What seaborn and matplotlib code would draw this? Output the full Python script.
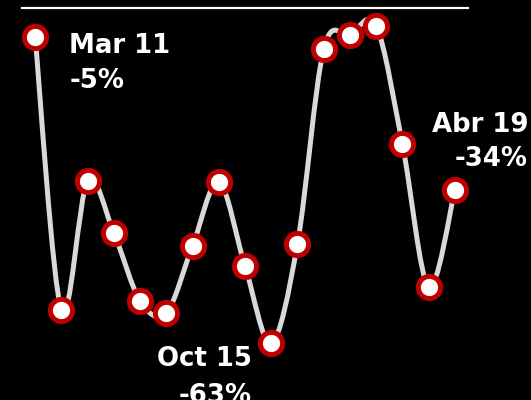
import numpy as np
import pandas as pd
import matplotlib
matplotlib.use("Agg")
import matplotlib.pyplot as plt
from matplotlib.path import Path
from matplotlib.patches import PathPatch
import seaborn as sns

# values (percent change)
values = [-5, -56.7, -32.3, -42.1, -55.0, -57.3, -44.6, -32.5, -48.4,
          -63, -44.2, -7.3, -4.6, -2.9, -25.3, -52.4, -34]
labels = [(0, "Mar 11\n-5%"), (9, "Oct 15\n-63%"), (16, "Abr 19\n-34%")]

df = pd.DataFrame({"idx": np.arange(len(values)), "value": values})

sns.set_style("dark", {"axes.facecolor": "black", "figure.facecolor": "black"})
plt.rcParams['font.family'] = ['DejaVu Sans']

fig = plt.figure(figsize=(5.31, 4.0), dpi=100)
ax = fig.add_axes([22 / 531, 0, 446 / 531, 392 / 400])
ax.set_facecolor("black")


def smooth_path(x, y):
    """Catmull-Rom style bezier path through the points."""
    pts = np.column_stack([x, y]).astype(float)
    n = len(pts)
    verts = [pts[0]]
    codes = [Path.MOVETO]
    for i in range(n - 1):
        p0 = pts[max(i - 1, 0)]
        p1 = pts[i]
        p2 = pts[i + 1]
        p3 = pts[min(i + 2, n - 1)]
        c1 = p1 + (p2 - p0) / 6.0
        c2 = p2 - (p3 - p1) / 6.0
        verts += [c1, c2, p2]
        codes += [Path.CURVE4] * 3
    return Path(verts, codes)


ax.add_patch(PathPatch(smooth_path(df["idx"], df["value"]), facecolor="none",
                       edgecolor="#d9d9d9", lw=3.6, capstyle="round", zorder=2))

sns.scatterplot(data=df, x="idx", y="value", ax=ax, s=255, color="white",
                edgecolor="#c00000", linewidth=3.6, zorder=3, legend=False)

ax.set_xlim(-0.5, 16.5)
ax.set_ylim(-73.8, 0.5)

for s in ["left", "right", "bottom"]:
    ax.spines[s].set_visible(False)
ax.spines["top"].set_visible(True)
ax.spines["top"].set_color("white")
ax.spines["top"].set_linewidth(1.6)
ax.set_xticks([])
ax.set_yticks([])
ax.set_xlabel("")
ax.set_ylabel("")
ax.grid(False)

txt = dict(color="white", fontsize=18.7, fontweight="bold", va="top",
           clip_on=False)
ax.text(1.3, -4.3, labels[0][1], ha="left", multialignment="left",
        linespacing=1.42, **txt)
ax.text(8.25, -63.6, labels[1][1], ha="right", multialignment="right",
        linespacing=1.56, **txt)
ax.text(18.79, -19.2, labels[2][1], ha="right", multialignment="right",
        linespacing=1.42, **txt)

fig.savefig("out.png", dpi=100, facecolor="black")
